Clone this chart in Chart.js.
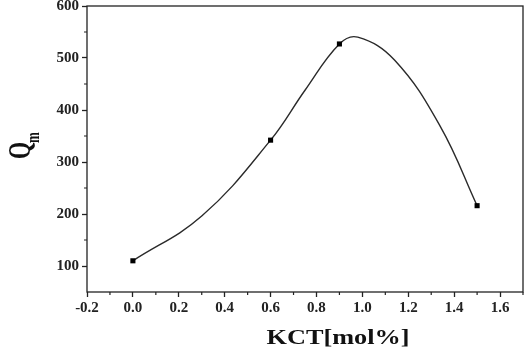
<!DOCTYPE html>
<html>
<head>
<meta charset="utf-8">
<script src="https://cdn.jsdelivr.net/npm/chart.js@4"></script>
<style>
    html, body { margin: 0; padding: 0; background: #fff; }
    #grafico { width: 527px; height: 358px; position: relative; }
</style>
</head>
<body>
<div id="grafico"><canvas id="chartQm"></canvas></div>
<script>
// pontos medidos (marcadores)
const kct = [0, 0.6, 0.9, 1.5];
const qm = [110, 342, 527, 216];

// curva suave
const curvaX = [0, 0.3, 0.6, 0.75, 0.9, 0.98, 1.14, 1.34, 1.5];
const curvaY = [110, 196, 342, 438, 527, 540, 496, 368, 216];

// rotulos dos eixos
const ticksX = [-0.2, 0.0, 0.2, 0.4, 0.6, 0.8, 1.0, 1.2, 1.4, 1.6];
const ticksY = [100, 200, 300, 400, 500, 600];

const fonteTick = { family: 'Liberation Serif', size: 15, weight: 'bold' };

// ticks menores, caixa e titulos dos eixos
const extras = {
    id: 'extras',
    afterDraw(chart) {
        const ctx = chart.ctx;
        const area = chart.chartArea;
        const sx = chart.scales.x;
        const sy = chart.scales.y;
        ctx.save();
        ctx.strokeStyle = '#222';
        ctx.lineWidth = 1.3;
        ctx.strokeRect(area.left, area.top, area.right - area.left, area.bottom - area.top);

        ctx.lineWidth = 1.2;
        ctx.beginPath();
        for (let i = 0; i < ticksX.length; i++) {
            const px = sx.getPixelForValue(ticksX[i] + 0.1);
            ctx.moveTo(px, area.bottom);
            ctx.lineTo(px, area.bottom + 3);
        }
        for (let i = 0; i < ticksY.length - 1; i++) {
            const py = sy.getPixelForValue(ticksY[i] + 50);
            ctx.moveTo(area.left, py);
            ctx.lineTo(area.left - 3, py);
        }
        ctx.stroke();

        ctx.fillStyle = '#111';
        // titulo x
        ctx.save();
        ctx.translate(338, 339);
        ctx.scale(1.25, 1);
        ctx.font = 'bold 21px "Liberation Serif"';
        ctx.textAlign = 'center';
        ctx.textBaseline = 'middle';
        ctx.fillText('KCT[mol%]', 0, 0);
        ctx.restore();

        // titulo y: Q com subscrito m
        ctx.save();
        ctx.translate(30, 159);
        ctx.rotate(-Math.PI / 2);
        ctx.scale(1, 1.4);
        ctx.font = 'bold 22px "Liberation Serif"';
        ctx.textAlign = 'left';
        ctx.textBaseline = 'alphabetic';
        ctx.fillText('Q', 0, 0);
        const wq = ctx.measureText('Q').width;
        ctx.font = 'bold 13px "Liberation Serif"';
        ctx.fillText('m', wq - 1, 6.5);
        ctx.restore();
        ctx.restore();
    }
};

const grafico = new Chart(document.getElementById('chartQm'), {
    type: 'scatter',
    data: {
        datasets: [
            {
                label: 'curva',
                data: curvaX.map((x, i) => ({ x: x, y: curvaY[i] })),
                showLine: true,
                borderColor: '#2a2a2a',
                borderWidth: 1.4,
                pointRadius: 0,
                tension: 0.4,
                order: 2
            },
            {
                label: 'Qm',
                data: kct.map((x, i) => ({ x: x, y: qm[i] })),
                showLine: false,
                pointStyle: 'rect',
                pointRadius: 3.6,
                backgroundColor: '#000',
                borderColor: '#000',
                borderWidth: 0,
                order: 1
            }
        ]
    },
    options: {
        responsive: true,
        maintainAspectRatio: false,
        animation: false,
        layout: {
            padding: { left: 0, top: 6, right: 2, bottom: 0 }
        },
        plugins: {
            legend: { display: false },
            tooltip: { enabled: false }
        },
        scales: {
            x: {
                type: 'linear',
                min: -0.2,
                max: 1.7,
                afterBuildTicks: (scale) => { scale.ticks = ticksX.map(v => ({ value: v })); },
                afterFit: (scale) => {
                    scale.height = 66;
                    scale.paddingLeft = 0;
                    scale.paddingRight = 0;
                },
                ticks: {
                    color: '#222',
                    font: fonteTick,
                    padding: 2,
                    maxRotation: 0,
                    callback: (v) => v.toFixed(1)
                },
                grid: {
                    drawOnChartArea: false,
                    drawTicks: true,
                    tickLength: 5,
                    tickColor: '#222',
                    tickWidth: 1.3
                },
                border: { display: false }
            },
            y: {
                type: 'linear',
                min: 50,
                max: 600,
                afterBuildTicks: (scale) => { scale.ticks = ticksY.map(v => ({ value: v })); },
                afterFit: (scale) => {
                    scale.width = 87;
                    scale.paddingTop = 0;
                    scale.paddingBottom = 0;
                },
                ticks: {
                    color: '#222',
                    font: fonteTick,
                    padding: 3
                },
                grid: {
                    drawOnChartArea: false,
                    drawTicks: true,
                    tickLength: 5,
                    tickColor: '#222',
                    tickWidth: 1.3
                },
                border: { display: false }
            }
        }
    },
    plugins: [extras]
});
</script>
</body>
</html>
